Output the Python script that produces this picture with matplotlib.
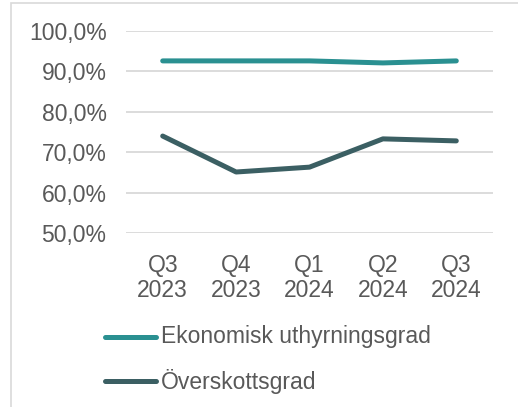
import matplotlib
matplotlib.use("Agg")
import matplotlib.pyplot as plt
from matplotlib.lines import Line2D
from matplotlib.patches import Rectangle
from matplotlib.ticker import FuncFormatter

quarters = ["Q3\n2023", "Q4\n2023", "Q1\n2024", "Q2\n2024", "Q3\n2024"]
uthyrningsgrad = [92.6, 92.6, 92.6, 92.1, 92.6]
overskottsgrad = [74.0, 65.1, 66.3, 73.3, 72.8]

TEAL = "#2A9091"
DARK = "#3B5F63"
GRAY = "#595959"

plt.rcParams["font.family"] = ["Liberation Sans", "DejaVu Sans"]

W, H = 518, 407
fig = plt.figure(figsize=(W / 100, H / 100), dpi=100)
ax = fig.add_axes([126 / W, 1 - 233 / H, (493 - 126) / W, (233 - 31) / H])

x = list(range(len(quarters)))
ax.plot(x, uthyrningsgrad, color=TEAL, lw=3.6, solid_capstyle="round",
        label="Ekonomisk uthyrningsgrad")
ax.plot(x, overskottsgrad, color=DARK, lw=3.6, solid_capstyle="round",
        label="Överskottsgrad")

ax.set_xlim(-0.5, len(quarters) - 0.5)
ax.set_ylim(50, 100)
ax.set_yticks([50, 60, 70, 80, 90, 100])
ax.yaxis.set_major_formatter(FuncFormatter(lambda v, p: f"{v:.1f}%".replace(".", ",")))
ax.set_xticks(x)
ax.set_xticklabels(quarters, linespacing=1.12)
ax.grid(axis="y", color="#D9D9D9", lw=1.3)
ax.set_axisbelow(True)
for s in ax.spines.values():
    s.set_visible(False)
ax.tick_params(axis="both", length=0, labelsize=16.5, colors=GRAY)
ax.tick_params(axis="y", pad=14)
ax.tick_params(axis="x", pad=15)

# legend drawn manually in figure pixels
for i, (lab, col) in enumerate([("Ekonomisk uthyrningsgrad", TEAL), ("Överskottsgrad", DARK)]):
    yy = 1 - (337 + 44 * i) / H
    fig.add_artist(Line2D([105 / W, 156 / W], [yy, yy], color=col, lw=3.6,
                          solid_capstyle="round", transform=fig.transFigure))
    fig.text(161 / W, yy, lab, color=GRAY, fontsize=16.5, va="center", ha="left")

# outer frame
fig.add_artist(Rectangle((11 / W, -0.05), 1.2, 1 - 3 / H + 0.05, transform=fig.transFigure,
                         fill=False, edgecolor="#D9D9D9", lw=1.2))

fig.savefig("out.png", dpi=100)
